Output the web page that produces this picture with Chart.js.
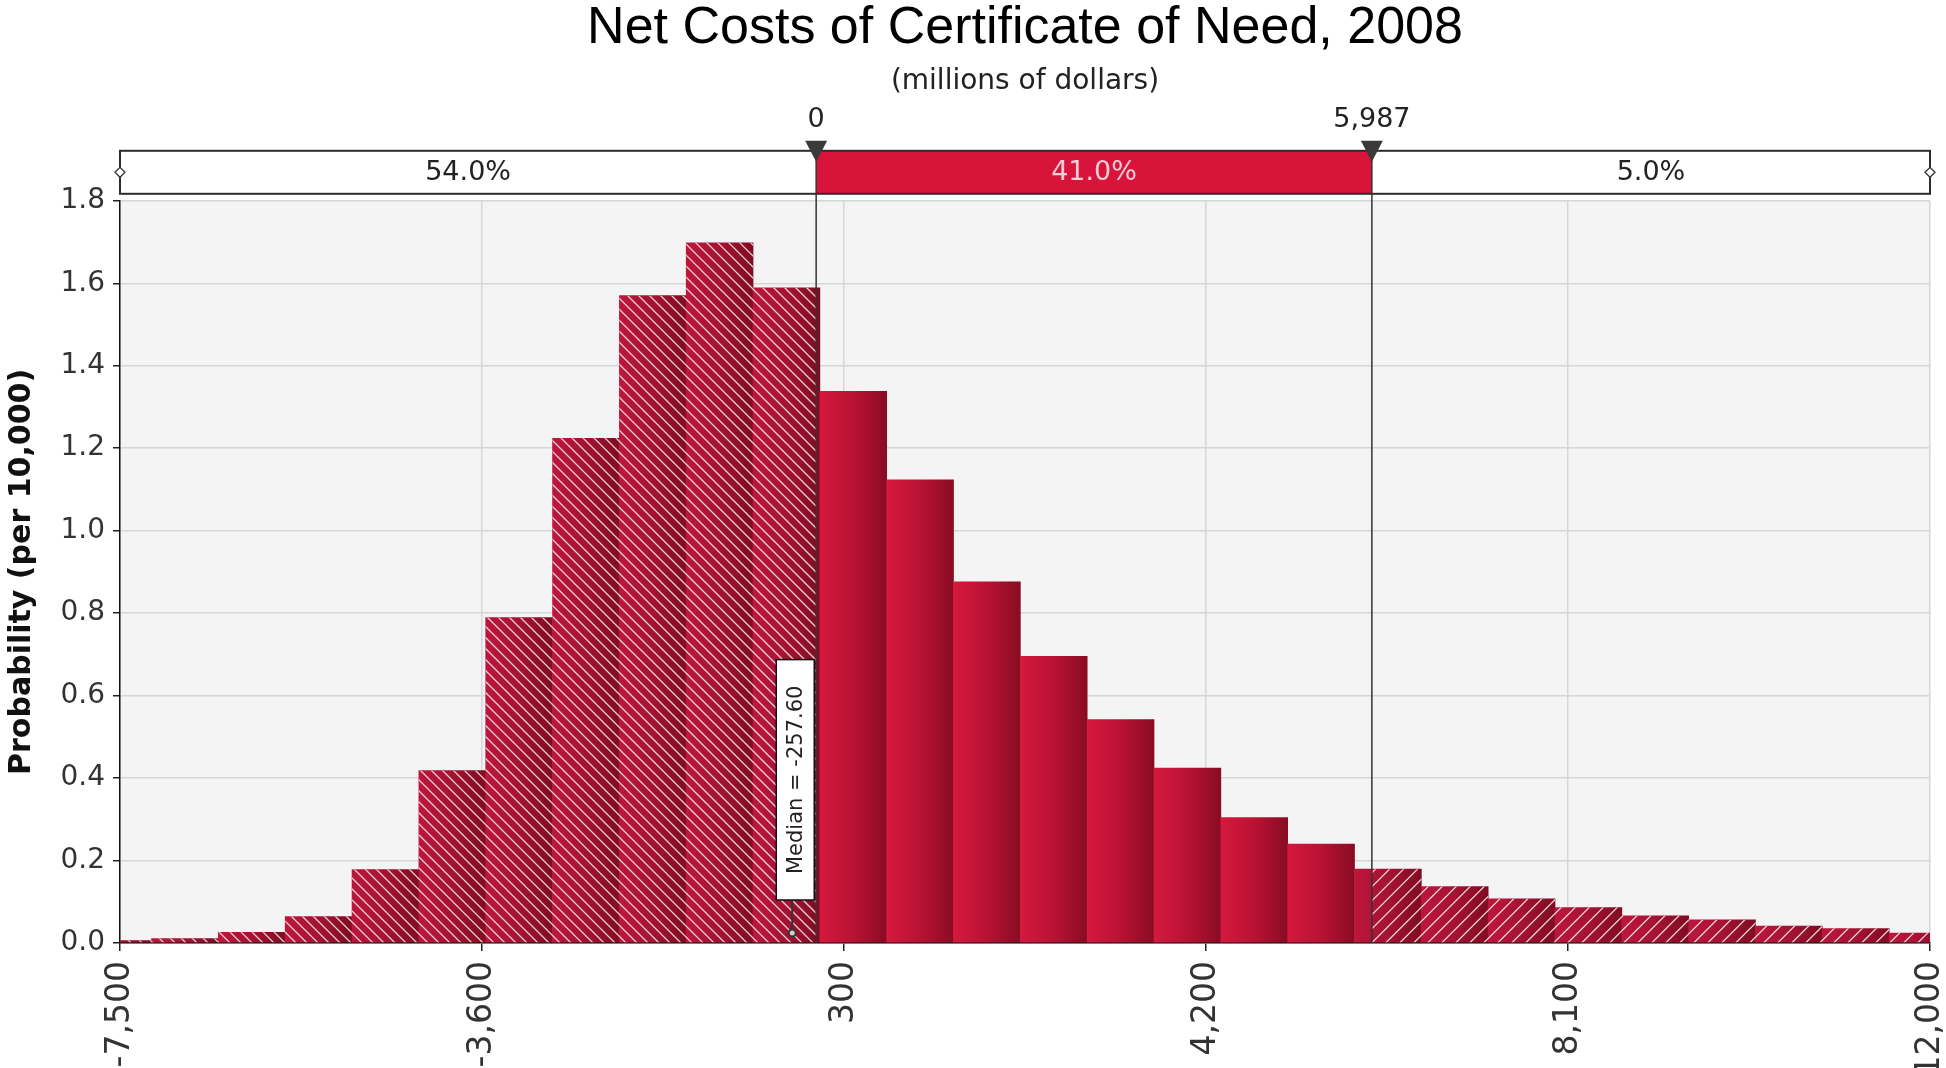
<!DOCTYPE html>
<html>
<head>
<meta charset="utf-8">
<title>Net Costs of Certificate of Need, 2008</title>
<script src="https://cdn.jsdelivr.net/npm/chart.js@4.4.0/dist/chart.umd.min.js"></script>
<style>
  html, body { margin: 0; padding: 0; background: #fff; }
  #wrap { width: 1946px; height: 1068px; }
</style>
</head>
<body>
<div id="wrap"><canvas id="chart" width="1946" height="1068"></canvas></div>
<script>
// histogram bins, centre of each bin (millions of dollars)
const binCenters = [-7520, -6800, -6080, -5360, -4640, -3920, -3200, -2480, -1760, -1040,
                    -320, 400, 1120, 1840, 2560, 3280, 4000, 4720, 5440, 6160,
                    6880, 7600, 8320, 9040, 9760, 10480, 11200, 11920];
// probability per 10,000 for each bin
const probability = [0.006, 0.011, 0.026, 0.064, 0.178, 0.418, 0.789, 1.224, 1.570, 1.698,
                     1.589, 1.338, 1.123, 0.876, 0.695, 0.542, 0.424, 0.304, 0.240, 0.179,
                     0.137, 0.107, 0.086, 0.066, 0.056, 0.041, 0.035, 0.024];
const xTickValues = [-7500, -3600, 300, 4200, 8100, 12000];
const cutoffs = [0, 5987];
const regionShares = ['54.0%', '41.0%', '5.0%'];
const median = -257.60;

const binWidth = binCenters[1] - binCenters[0];
const fmt = v => v.toLocaleString('en-US');

function barFill(context) {
  if (context.type !== 'data') return '#b81233';
  const chart = context.chart;
  const xs = chart.scales.x;
  const c = context.raw.x;
  const left = xs.getPixelForValue(c - binWidth / 2);
  const right = xs.getPixelForValue(c + binWidth / 2);
  if (!isFinite(left) || !isFinite(right)) return '#b81233';
  const hatched = c < cutoffs[0] || c > cutoffs[1];
  const g = chart.ctx.createLinearGradient(left, 0, right, 0);
  if (hatched) {
    g.addColorStop(0, '#bd163c');
    g.addColorStop(0.5, '#a51232');
    g.addColorStop(1, '#800b21');
  } else {
    g.addColorStop(0, '#d6183e');
    g.addColorStop(0.5, '#b91233');
    g.addColorStop(1, '#880c23');
  }
  return g;
}

const plotBackground = {
  id: 'plotBackground',
  beforeDraw(chart) {
    const {ctx, chartArea: a} = chart;
    ctx.save();
    ctx.fillStyle = '#f4f4f4';
    ctx.fillRect(a.left, a.top, a.width, a.height);
    ctx.restore();
  }
};

function hatch(ctx, left, right, top, bottom, gap, dir) {
  const h = bottom - top;
  ctx.beginPath();
  for (let x = left - h; x < right + gap; x += gap) {
    if (dir > 0) { ctx.moveTo(x, top); ctx.lineTo(x + h, bottom); }
    else { ctx.moveTo(x, bottom); ctx.lineTo(x + h, top); }
  }
  ctx.stroke();
}

const markers = {
  id: 'markers',
  afterDatasetsDraw(chart) {
    const {ctx, chartArea: a, scales: {x}} = chart;
    const x0 = x.getPixelForValue(cutoffs[0]);
    const x1 = x.getPixelForValue(cutoffs[1]);
    const bars = chart.getDatasetMeta(0).data;

    // white hatching on the bars outside the cut-offs
    ctx.save();
    ctx.beginPath();
    ctx.rect(a.left, a.top, a.width, a.height);
    ctx.clip();
    ctx.beginPath();
    bars.forEach(b => {
      const p = b.getProps(['x', 'y', 'base', 'width'], true);
      ctx.rect(p.x - p.width / 2, p.y, p.width, p.base - p.y);
    });
    ctx.clip();
    ctx.strokeStyle = 'rgba(255,255,255,0.8)';
    ctx.lineWidth = 1.3;
    ctx.save();
    ctx.beginPath();
    ctx.rect(a.left, a.top, x0 - a.left, a.height);
    ctx.clip();
    hatch(ctx, a.left, x0, a.top, a.bottom, 11, 1);
    ctx.restore();
    ctx.save();
    ctx.beginPath();
    ctx.rect(x1, a.top, a.right - x1, a.height);
    ctx.clip();
    hatch(ctx, x1, a.right, a.top, a.bottom, 14, -1);
    ctx.restore();
    ctx.restore();
  },
  afterDraw(chart) {
    const {ctx, chartArea: a, scales: {x}} = chart;
    const x0 = x.getPixelForValue(cutoffs[0]);
    const x1 = x.getPixelForValue(cutoffs[1]);
    const sTop = a.top - 50, sBot = a.top - 7, sMid = (sTop + sBot) / 2;

    ctx.save();
    // band with the three shares
    ctx.fillStyle = '#ffffff';
    ctx.fillRect(a.left, sTop, a.width, sBot - sTop);
    ctx.fillStyle = '#d9143a';
    ctx.fillRect(x0, sTop, x1 - x0, sBot - sTop);
    ctx.strokeStyle = '#2c2c2c';
    ctx.lineWidth = 2;
    ctx.strokeRect(a.left, sTop, a.width, sBot - sTop);

    ctx.font = '27px "DejaVu Sans"';
    ctx.textAlign = 'center';
    ctx.textBaseline = 'middle';
    ctx.fillStyle = '#222';
    ctx.fillText(regionShares[0], (a.left + x0) / 2, sMid + 1);
    ctx.fillText(regionShares[2], (x1 + a.right) / 2, sMid + 1);
    ctx.fillStyle = '#f6ccd5';
    ctx.fillText(regionShares[1], (x0 + x1) / 2, sMid + 1);

    // cut-off lines
    ctx.strokeStyle = '#333';
    ctx.lineWidth = 1.5;
    [x0, x1].forEach(px => {
      ctx.beginPath();
      ctx.moveTo(px, sTop);
      ctx.lineTo(px, a.bottom);
      ctx.stroke();
    });

    // triangles and their values
    ctx.fillStyle = '#3a3a3a';
    [x0, x1].forEach(px => {
      ctx.beginPath();
      ctx.moveTo(px - 11, sTop - 10);
      ctx.lineTo(px + 11, sTop - 10);
      ctx.lineTo(px, sTop + 11);
      ctx.closePath();
      ctx.fill();
    });
    ctx.font = '27px "DejaVu Sans"';
    ctx.fillStyle = '#222';
    ctx.fillText(fmt(cutoffs[0]), x0, sTop - 31);
    ctx.fillText(fmt(cutoffs[1]), x1, sTop - 31);

    // small handles at both ends of the band
    [a.left, a.right].forEach(px => {
      ctx.beginPath();
      ctx.moveTo(px - 5, sMid);
      ctx.lineTo(px, sMid - 5);
      ctx.lineTo(px + 5, sMid);
      ctx.lineTo(px, sMid + 5);
      ctx.closePath();
      ctx.fillStyle = '#fff';
      ctx.fill();
      ctx.strokeStyle = '#333';
      ctx.lineWidth = 1.3;
      ctx.stroke();
    });

    // median label
    const mx = x.getPixelForValue(median);
    const label = 'Median = ' + median.toFixed(2);
    ctx.font = '21px "DejaVu Sans"';
    const tw = ctx.measureText(label).width;
    const boxW = 38, boxH = tw + 52;
    const boxBottom = a.bottom - 43;
    const bx = mx + 3 - boxW / 2;
    ctx.strokeStyle = '#333';
    ctx.lineWidth = 2;
    ctx.beginPath();
    ctx.moveTo(mx, boxBottom);
    ctx.lineTo(mx, a.bottom - 9);
    ctx.stroke();
    ctx.beginPath();
    ctx.arc(mx, a.bottom - 10, 3.5, 0, Math.PI * 2);
    ctx.fillStyle = '#d8c8cc';
    ctx.fill();
    ctx.stroke();
    ctx.fillStyle = '#fff';
    ctx.fillRect(bx, boxBottom - boxH, boxW, boxH);
    ctx.lineWidth = 1.5;
    ctx.strokeStyle = '#111';
    ctx.strokeRect(bx, boxBottom - boxH, boxW, boxH);
    ctx.translate(bx + boxW / 2, boxBottom - boxH / 2);
    ctx.rotate(-Math.PI / 2);
    ctx.fillStyle = '#222';
    ctx.fillText(label, 0, 1);
    ctx.restore();
  }
};

new Chart(document.getElementById('chart'), {
  type: 'bar',
  data: {
    datasets: [{
      label: 'Probability',
      data: binCenters.map((c, i) => ({x: c, y: probability[i]})),
      backgroundColor: barFill,
      borderWidth: 0,
      barPercentage: 1,
      categoryPercentage: 1,
      grouped: false
    }]
  },
  options: {
    responsive: false,
    animation: false,
    devicePixelRatio: 1,
    layout: { padding: { left: 0, right: 16, top: 0, bottom: 0 } },
    plugins: {
      legend: { display: false },
      tooltip: { enabled: false },
      title: {
        display: true,
        fullSize: false,
        text: 'Net Costs of Certificate of Need, 2008',
        color: '#000',
        font: { family: '"Liberation Sans", Arial, sans-serif', size: 52, weight: 'normal', lineHeight: 1.1 },
        padding: { top: 0, bottom: 8 }
      },
      subtitle: {
        display: true,
        fullSize: false,
        text: '(millions of dollars)',
        color: '#222',
        font: { family: '"DejaVu Sans", sans-serif', size: 28, lineHeight: 1.2 },
        padding: { top: 0, bottom: 102 }
      }
    },
    scales: {
      x: {
        type: 'linear',
        min: -7500,
        max: 12000,
        offset: false,
        afterBuildTicks: s => { s.ticks = xTickValues.map(v => ({value: v})); },
        afterFit: s => { s.height = 125; s.paddingLeft = 0; s.paddingRight = 0; },
        ticks: {
          autoSkip: false,
          minRotation: 90,
          maxRotation: 90,
          padding: 10,
          color: '#333',
          font: { family: '"DejaVu Sans", sans-serif', size: 33 },
          callback: v => fmt(v)
        },
        grid: { color: '#d6d6d6', lineWidth: 1.5, tickColor: '#222', tickLength: 8, offset: false },
        border: { color: '#111', width: 1.5 }
      },
      y: {
        min: 0,
        max: 1.8,
        afterFit: s => { s.width = 120; },
        ticks: {
          stepSize: 0.2,
          padding: 8,
          color: '#333',
          font: { family: '"DejaVu Sans", sans-serif', size: 28 },
          callback: v => v.toFixed(1)
        },
        grid: { color: '#d6d6d6', lineWidth: 1.5, tickColor: '#222', tickLength: 7 },
        border: { color: '#111', width: 1.5 },
        title: {
          display: true,
          text: 'Probability (per 10,000)',
          color: '#111',
          font: { family: '"DejaVu Sans", sans-serif', size: 30, weight: 'bold', lineHeight: 1.2 },
          padding: { top: 4, bottom: 0 }
        }
      }
    }
  },
  plugins: [plotBackground, markers]
});
</script>
</body>
</html>
